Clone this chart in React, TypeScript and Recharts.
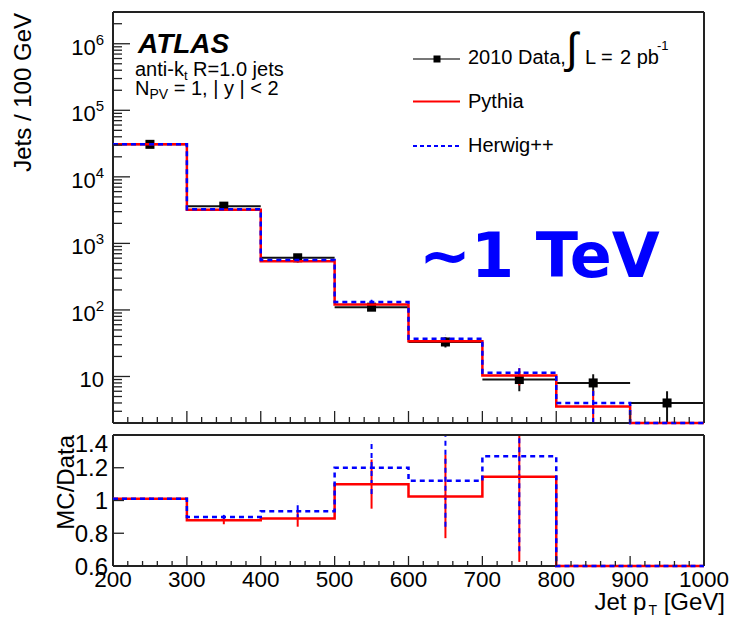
import React from 'react';
import { ComposedChart, Line, Scatter, ErrorBar, XAxis, YAxis } from 'recharts';

// binning (GeV)
const BIN_EDGES = [200, 300, 400, 500, 600, 700, 800, 900, 1000];
const BIN_CENTERS = [250, 350, 450, 550, 650, 750, 850, 950];
const BIN_HALF_WIDTH = 50;

// jets / 100 GeV
const DATA_JETS = [30800, 3630, 608, 110, 33, 9, 8, 4];
const DATA_ERR = [175, 60, 25, 10.5, 5.7, 3, 2.8, 2];
const PYTHIA_JETS = [30900, 3200, 540, 121, 33.8, 10.35, 3.55, 0];
const PYTHIA_ERR = [300, 70, 25, 9, 4.5, 3, 2.6, 0];
const HERWIG_JETS = [30900, 3270, 565, 132, 37, 11.4, 4.0, 0];
const HERWIG_ERR = [300, 80, 35, 10, 5, 3.2, 2.4, 0];

// MC / Data
const PYTHIA_RATIO = [1.01, 0.88, 0.89, 1.1, 1.025, 1.145, 0.44, 0];
const PYTHIA_RATIO_ERR = [0.006, 0.025, 0.05, 0.15, 0.255, 0.52, 0, 0];
const HERWIG_RATIO = [1.01, 0.9, 0.935, 1.2, 1.12, 1.27, 0.5, 0];
const HERWIG_RATIO_ERR = [0.006, 0.012, 0.05, 0.16, 0.28, 0.58, 0, 0];

const RATIO_TICKS = [0.6, 0.8, 1, 1.2, 1.4];

const Y_MIN = 2;
const Y_MAX = 3e6;
const RATIO_MIN = 0.6;
const RATIO_MAX = 1.4;

const FONT = '"Liberation Sans", Arial, Helvetica, sans-serif';
const FRAME = '#222';
const RED = '#ff0000';
const BLUE = '#0000ff';

// minor ticks every 20 GeV, log minors 2..9 per decade
const X_TICKS: number[] = [];
for (let v = 200; v <= 1000; v += 20) X_TICKS.push(v);
const Y_TICKS: number[] = [];
for (let k = 0; k <= 6; k++) {
    for (let m = 1; m <= 9; m++) {
        const v = m * Math.pow(10, k);
        if (v >= Y_MIN && v <= Y_MAX) Y_TICKS.push(v);
    }
}

// ROOT draws under/overflowing bins on the frame edge
const stepRows = (values: number[], lo: number) =>
    BIN_EDGES.map((x, i) => ({ x, v: Math.max(values[Math.min(i, values.length - 1)], lo) }));

const errorRows = (values: number[], errs: number[], lo: number, hi: number) =>
    BIN_CENTERS.map((x, i) => ({
        x,
        y: values[i],
        e: [Math.min(errs[i], values[i] - lo), Math.max(0, Math.min(errs[i], hi - values[i]))],
        ok: values[i] >= lo && values[i] <= hi && errs[i] > 0,
    })).filter(r => r.ok);

const dataRows = BIN_CENTERS.map((x, i) => ({
    x,
    y: DATA_JETS[i],
    ex: BIN_HALF_WIDTH,
    ey: [Math.min(DATA_ERR[i], DATA_JETS[i] - Y_MIN), DATA_ERR[i]],
}));

const isDecade = (v: number) => {
    const l = Math.log10(v);
    return Math.abs(l - Math.round(l)) < 1e-6;
};

const XTick = (props: any) => {
    const { x = 0, y = 0, payload, side, major, minor, labels } = props;
    const v = payload?.value ?? 0;
    const isMajor = v % 100 === 0;
    const dir = side === 'bottom' ? -1 : 1;
    return (
        <g>
            <line x1={x} x2={x} y1={y} y2={y + dir * (isMajor ? major : minor)} stroke={FRAME} strokeWidth={1.3} />
            {labels && isMajor && (
                <text x={x} y={y + 21} textAnchor="middle" fontSize={22.5} fontFamily={FONT} fill="#000">{v}</text>
            )}
        </g>
    );
};

const LogTick = (props: any) => {
    const { x = 0, y = 0, payload, side, labels } = props;
    const v = payload?.value ?? 1;
    const major = isDecade(v);
    const dir = side === 'left' ? 1 : -1;
    const exp = Math.round(Math.log10(v));
    return (
        <g>
            <line x1={x} x2={x + dir * (major ? 17 : 9)} y1={y} y2={y} stroke={FRAME} strokeWidth={1.3} />
            {labels && major && (
                <text x={x - 9} y={y + 11} textAnchor="end" fontSize={22} fontFamily={FONT} fill="#000">
                    10{exp > 1 && <tspan dy={-10} fontSize={15}>{exp}</tspan>}
                </text>
            )}
        </g>
    );
};

const RatioTick = (props: any) => {
    const { x = 0, y = 0, payload, side, labels, frameTop } = props;
    const v = payload?.value ?? 1;
    const dir = side === 'left' ? 1 : -1;
    const ly = Math.max(y, frameTop + 8);
    return (
        <g>
            <line x1={x} x2={x + dir * 11} y1={y} y2={y} stroke={FRAME} strokeWidth={1.3} />
            {labels && (
                <text x={x - 5} y={ly} dy="0.36em" textAnchor="end" fontSize={24} fontFamily={FONT} fill="#000">{v}</text>
            )}
        </g>
    );
};

const axisLine = { stroke: FRAME, strokeWidth: 2 };
const square = (p: any) => <rect x={p.cx - 4.5} y={p.cy - 4.5} width={9} height={9} fill="#000" />;
const nothing = () => <g />;

// axes take 1px each, margins are set so the frames land where the reference has them
const TOP_MARGIN = { top: 11, right: 26, bottom: 9, left: 112 };
const RATIO_MARGIN = { top: 11, right: 26, bottom: 52, left: 112 };

const MainPanel = () => (
    <ComposedChart width={731} height={433} margin={TOP_MARGIN}>
        <XAxis xAxisId="b" dataKey="x" type="number" domain={[200, 1000]} ticks={X_TICKS} interval={0}
            height={1} tickSize={0} tickMargin={0} tickLine={false} axisLine={axisLine}
            tick={<XTick side="bottom" major={12} minor={6} labels={false} />} />
        <XAxis xAxisId="t" orientation="top" type="number" domain={[200, 1000]} ticks={X_TICKS} interval={0}
            height={1} tickSize={0} tickMargin={0} tickLine={false} axisLine={axisLine}
            tick={<XTick side="top" major={12} minor={5} labels={false} />} />
        <YAxis yAxisId="l" dataKey="y" type="number" scale="log" domain={[Y_MIN, Y_MAX]} ticks={Y_TICKS} interval={0}
            width={1} tickSize={0} tickMargin={0} tickLine={false} axisLine={axisLine}
            tick={<LogTick side="left" labels />} />
        <YAxis yAxisId="r" orientation="right" type="number" scale="log" domain={[Y_MIN, Y_MAX]} ticks={Y_TICKS} interval={0}
            width={1} tickSize={0} tickMargin={0} tickLine={false} axisLine={axisLine}
            tick={<LogTick side="right" labels={false} />} />

        <Scatter xAxisId="b" yAxisId="l" data={dataRows} shape={square} isAnimationActive={false}>
            <ErrorBar dataKey="ex" direction="x" width={0} stroke="#111" strokeWidth={2} />
            <ErrorBar dataKey="ey" direction="y" width={0} stroke="#111" strokeWidth={2} />
        </Scatter>
        <Line xAxisId="b" yAxisId="l" data={stepRows(PYTHIA_JETS, Y_MIN)} dataKey="v" type="stepAfter" zIndex={600}
            stroke={RED} strokeWidth={2.5} dot={false} activeDot={false} isAnimationActive={false} />
        <Line xAxisId="b" yAxisId="l" data={stepRows(HERWIG_JETS, Y_MIN)} dataKey="v" type="stepAfter" zIndex={610}
            stroke={BLUE} strokeWidth={2.5} strokeDasharray="5 4" dot={false} activeDot={false} isAnimationActive={false} />
        <Scatter xAxisId="b" yAxisId="l" data={errorRows(PYTHIA_JETS, PYTHIA_ERR, Y_MIN, Y_MAX)} shape={nothing} isAnimationActive={false}>
            <ErrorBar dataKey="e" direction="y" width={0} stroke={RED} strokeWidth={2} />
        </Scatter>
        <Scatter xAxisId="b" yAxisId="l" data={errorRows(HERWIG_JETS, HERWIG_ERR, Y_MIN, Y_MAX)} shape={nothing} isAnimationActive={false}>
            <ErrorBar dataKey="e" direction="y" width={0} stroke={BLUE} strokeWidth={2} strokeDasharray="5 4" />
        </Scatter>
    </ComposedChart>
);

const RatioPanel = () => (
    <ComposedChart width={731} height={196} margin={RATIO_MARGIN}>
        <XAxis xAxisId="b" dataKey="x" type="number" domain={[200, 1000]} ticks={X_TICKS} interval={0}
            height={1} tickSize={0} tickMargin={0} tickLine={false} axisLine={axisLine}
            tick={<XTick side="bottom" major={10} minor={5} labels />} />
        <XAxis xAxisId="t" orientation="top" type="number" domain={[200, 1000]} ticks={X_TICKS} interval={0}
            height={1} tickSize={0} tickMargin={0} tickLine={false} axisLine={axisLine}
            tick={<XTick side="top" major={10} minor={5} labels={false} />} />
        <YAxis yAxisId="l" dataKey="y" type="number" domain={[RATIO_MIN, RATIO_MAX]} ticks={RATIO_TICKS} interval={0}
            width={1} tickSize={0} tickMargin={0} tickLine={false} axisLine={axisLine}
            tick={<RatioTick side="left" labels frameTop={RATIO_MARGIN.top + 1} />} />
        <YAxis yAxisId="r" orientation="right" type="number" domain={[RATIO_MIN, RATIO_MAX]} ticks={RATIO_TICKS} interval={0}
            width={1} tickSize={0} tickMargin={0} tickLine={false} axisLine={axisLine}
            tick={<RatioTick side="right" labels={false} frameTop={RATIO_MARGIN.top + 1} />} />

        <Line xAxisId="b" yAxisId="l" data={stepRows(PYTHIA_RATIO, RATIO_MIN)} dataKey="v" type="stepAfter" zIndex={600}
            stroke={RED} strokeWidth={2.5} dot={false} activeDot={false} isAnimationActive={false} />
        <Line xAxisId="b" yAxisId="l" data={stepRows(HERWIG_RATIO, RATIO_MIN)} dataKey="v" type="stepAfter" zIndex={610}
            stroke={BLUE} strokeWidth={2.5} strokeDasharray="5 4" dot={false} activeDot={false} isAnimationActive={false} />
        <Scatter xAxisId="b" yAxisId="l" data={errorRows(PYTHIA_RATIO, PYTHIA_RATIO_ERR, RATIO_MIN, RATIO_MAX)} shape={nothing} isAnimationActive={false}>
            <ErrorBar dataKey="e" direction="y" width={0} stroke={RED} strokeWidth={2} />
        </Scatter>
        <Scatter xAxisId="b" yAxisId="l" data={errorRows(HERWIG_RATIO, HERWIG_RATIO_ERR, RATIO_MIN, RATIO_MAX)} shape={nothing} isAnimationActive={false}>
            <ErrorBar dataKey="e" direction="y" width={0} stroke={BLUE} strokeWidth={2} strokeDasharray="5 4" />
        </Scatter>
    </ComposedChart>
);

// titles, ATLAS label and legend
const Overlay = () => (
    <svg width={731} height={619} style={{ position: 'absolute', left: 0, top: 0, pointerEvents: 'none' }} fontFamily={FONT}>
        <text x={31} y={13} transform="rotate(-90 31 13)" textAnchor="end" fontSize={24}>Jets / 100 GeV</text>
        <text x={74} y={435} transform="rotate(-90 74 435)" textAnchor="end" fontSize={24}>MC/Data</text>
        <text x={725} y={610} textAnchor="end" fontSize={24}>
            Jet p<tspan dx={2} dy={5} fontSize={14}>T</tspan><tspan dy={-5}>  [GeV]</tspan>
        </text>

        <text x={138} y={53} fontSize={28} fontWeight="bold" fontStyle="italic">ATLAS</text>
        <text x={135} y={76} fontSize={20}>
            anti-k<tspan dy={4} fontSize={13}>t</tspan><tspan dy={-4}> R=1.0 jets</tspan>
        </text>
        <text x={135} y={95} fontSize={20}>
            N<tspan dy={4} fontSize={14}>PV</tspan><tspan dy={-4}> = 1, | y | &lt; 2</tspan>
        </text>

        <line x1={413} x2={460} y1={59} y2={59} stroke="#777" strokeWidth={2} />
        <rect x={433.5} y={55.5} width={7} height={7} fill="#000" />
        <text x={468} y={64} fontSize={20}>2010 Data,</text>
        <text x={566} y={63} fontSize={43}>∫</text>
        <text x={585} y={64} fontSize={20}>L =</text>
        <text x={620} y={64} fontSize={20}>2 pb</text>
        <text x={657} y={50} fontSize={13}>-1</text>

        <line x1={413} x2={460} y1={101.5} y2={101.5} stroke={RED} strokeWidth={2} />
        <text x={468} y={108} fontSize={20}>Pythia</text>
        <line x1={413} x2={460} y1={146} y2={146} stroke={BLUE} strokeWidth={2} strokeDasharray="4 3" />
        <text x={468} y={152} fontSize={20}>Herwig++</text>

        <text x={419} y={277} fontSize={62} fontWeight="bold" fontFamily='"DejaVu Sans", sans-serif' fill={BLUE}>~1 TeV</text>
    </svg>
);

export default function App() {
    return (
        <div style={{ position: 'absolute', left: 0, top: 0, width: 731, height: 619, background: '#fff', overflow: 'hidden' }}>
            <div style={{ position: 'absolute', left: 0, top: 0 }}>
                <MainPanel />
            </div>
            <div style={{ position: 'absolute', left: 0, top: 423 }}>
                <RatioPanel />
            </div>
            <Overlay />
        </div>
    );
}
